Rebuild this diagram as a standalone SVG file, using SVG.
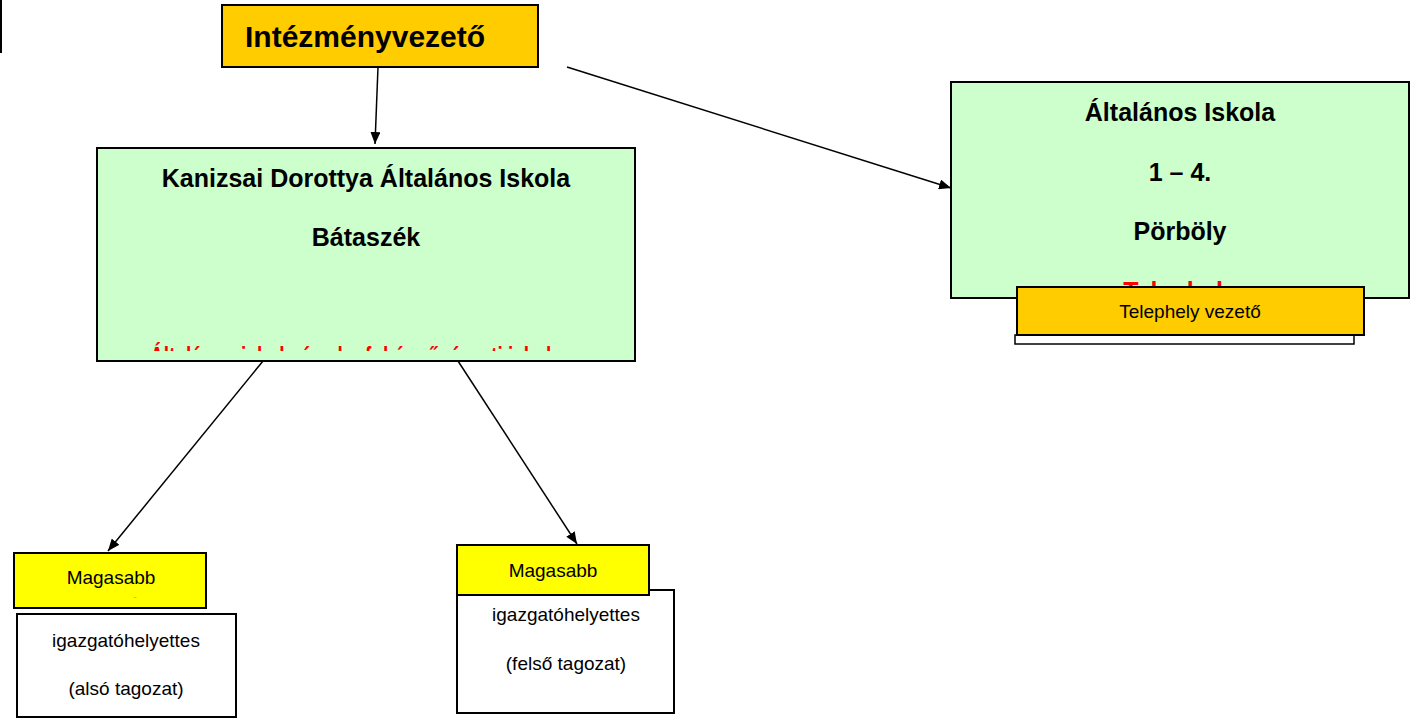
<svg xmlns="http://www.w3.org/2000/svg" width="1420" height="719" viewBox="0 0 1420 719">
<style>
.box{stroke:#000;stroke-width:2}
.gold{fill:#FFCC00}
.green{fill:#CCFFCC}
.yellow{fill:#FFFF00}
.white{fill:#fff}
.h{font-family:"Liberation Sans",Arial,sans-serif;font-weight:bold;font-size:25px;fill:#000;text-anchor:middle}
.n{font-family:"Liberation Sans",Arial,sans-serif;font-size:19px;fill:#000;text-anchor:middle}
.red{font-family:"Liberation Sans",Arial,sans-serif;font-weight:bold;font-size:25px;fill:#FF0000;text-anchor:middle}
.conn{stroke:#000;stroke-width:1.5;fill:none;marker-end:url(#arr)}
</style>
<defs>
<marker id="arr" viewBox="0 0 12 10" refX="12" refY="5" markerWidth="12" markerHeight="10" markerUnits="userSpaceOnUse" orient="auto">
<path d="M0,0 L12,5 L0,10 z" fill="#000"/>
</marker>
<clipPath id="clipL"><rect x="97" y="148" width="538" height="203"/></clipPath>
<clipPath id="clipR"><rect x="951" y="82" width="458" height="204"/></clipPath>
</defs>
<line x1="1" y1="0" x2="1" y2="53" stroke="#000" stroke-width="2"/>
<g id="intezmenyvezeto">
<rect class="box gold" x="222" y="5" width="316" height="62"/>
<text x="245" y="47" class="h" style="text-anchor:start;font-size:30px">Intézményvezető</text>
</g>
<g id="kanizsai">
<rect class="box green" x="97" y="148" width="538" height="213"/>
<text x="366" y="187" class="h">Kanizsai Dorottya Általános Iskola</text>
<text x="366" y="246" class="h">Bátaszék</text>
<text x="150" y="365" class="red" style="text-anchor:start" textLength="412" lengthAdjust="spacingAndGlyphs" clip-path="url(#clipL)">Általános iskola és alapfokú művészeti iskola</text>
</g>
<g id="porboly">
<rect class="box green" x="951" y="82" width="458" height="216"/>
<text x="1180" y="121" class="h">Általános Iskola</text>
<text x="1180" y="181" class="h">1 – 4.</text>
<text x="1180" y="240" class="h">Pörböly</text>
<text x="1180" y="300" class="red" clip-path="url(#clipR)">Telephely</text>
</g>
<g id="telephely-vezeto">
<rect class="white" x="1015" y="335" width="339" height="9" stroke="#000" stroke-width="1.5"/>
<rect class="box gold" x="1017" y="287" width="347" height="48"/>
<text x="1190" y="318" class="n">Telephely vezető</text>
</g>
<g id="helyettes-also">
<rect class="box yellow" x="14" y="553" width="192" height="55"/>
<text x="111" y="584" class="n">Magasabb</text>
<text x="135" y="598" class="n" style="font-size:5px">..</text>
<rect class="box white" x="17" y="614" width="219" height="103"/>
<text x="126" y="647" class="n">igazgatóhelyettes</text>
<text x="126" y="695" class="n">(alsó tagozat)</text>
</g>
<g id="helyettes-felso">
<rect class="box white" x="457" y="590" width="217" height="123"/>
<rect class="box yellow" x="457" y="545" width="192" height="50"/>
<text x="553" y="577" class="n">Magasabb</text>
<text x="566" y="621" class="n">igazgatóhelyettes</text>
<text x="566" y="670" class="n">(felső tagozat)</text>
</g>
<g id="connectors">
<line class="conn" x1="378" y1="67" x2="375" y2="144"/>
<line class="conn" x1="567" y1="67" x2="951" y2="188"/>
<line class="conn" x1="263" y1="361" x2="108" y2="551"/>
<line class="conn" x1="458" y1="361" x2="577" y2="544"/>
</g>
</svg>
